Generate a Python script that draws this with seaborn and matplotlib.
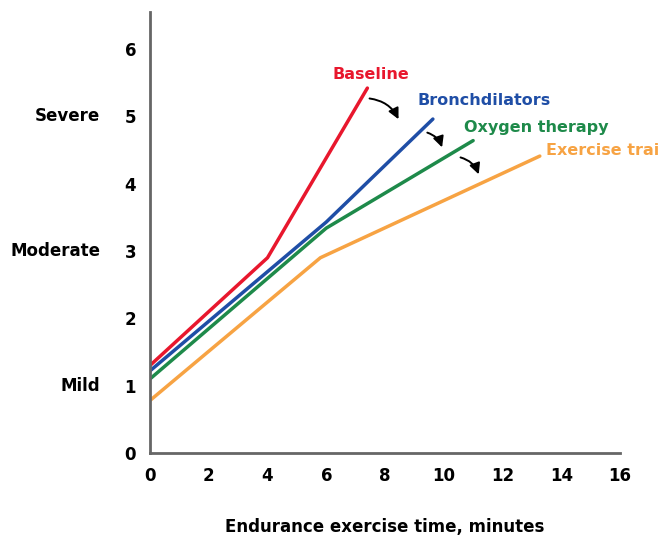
import matplotlib
matplotlib.use("Agg")
import matplotlib.pyplot as plt
import seaborn as sns
import pandas as pd

# Data
series_names = ["Baseline", "Bronchdilators", "Oxygen therapy", "Exercise training"]
baseline_x = [0, 4, 7.4]
baseline_y = [1.3, 2.9, 5.42]
broncho_x = [0, 6, 9.63]
broncho_y = [1.22, 3.43, 4.96]
oxygen_x = [0, 6, 11.0]
oxygen_y = [1.1, 3.34, 4.64]
exercise_x = [0, 5.8, 13.27]
exercise_y = [0.78, 2.9, 4.41]
colors = ["#e8172d", "#1f4ea6", "#1e8a4a", "#f7a343"]
x_ticks = [0, 2, 4, 6, 8, 10, 12, 14, 16]
y_ticks = [0, 1, 2, 3, 4, 5, 6]
severity_labels = {1: "Mild", 3: "Moderate", 5: "Severe"}
label_pos = [(6.22, 5.62), (9.1, 5.24), (10.68, 4.84), (13.47, 4.49)]
arrows = [((7.38, 5.27), (8.5, 4.92)), ((9.35, 4.77), (9.97, 4.5)), ((10.48, 4.4), (11.22, 4.1))]

xs = [baseline_x, broncho_x, oxygen_x, exercise_x]
ys = [baseline_y, broncho_y, oxygen_y, exercise_y]
rows = []
for name, xv, yv in zip(series_names, xs, ys):
    for a, b in zip(xv, yv):
        rows.append({"series": name, "x": a, "y": b})
df = pd.DataFrame(rows)

sns.set_style("white")
plt.rcParams["font.family"] = ["DejaVu Sans"]

fig = plt.figure(figsize=(6.59, 5.5), dpi=100)
ax = fig.add_axes([150 / 659, 1 - 453 / 550, 470 / 659, 441 / 550])

sns.lineplot(data=df, x="x", y="y", hue="series", palette=dict(zip(series_names, colors)),
             linewidth=2.5, legend=False, ax=ax, sort=False)

ax.set_xlim(0, 16)
ax.set_ylim(0, 6.55)
ax.set_xticks(x_ticks)
ax.set_yticks(y_ticks)
ax.tick_params(axis="both", direction="out", length=6, width=1.5, color="#666666",
               labelsize=12, pad=4, labelcolor="black")
for lbl in ax.get_xticklabels() + ax.get_yticklabels():
    lbl.set_fontweight("bold")
for s in ["top", "right"]:
    ax.spines[s].set_visible(False)
for s in ["left", "bottom"]:
    ax.spines[s].set_color("#666666")
    ax.spines[s].set_linewidth(2)
ax.set_xlabel("Endurance exercise time, minutes", fontsize=12, fontweight="bold",
              labelpad=24, color="black")
ax.set_ylabel("")

for yv, txt in severity_labels.items():
    ax.text(-1.7, yv, txt, ha="right", va="center", fontsize=12, fontweight="bold",
            color="black", transform=ax.transData, clip_on=False)

for name, c, (lx, ly) in zip(series_names, colors, label_pos):
    ax.text(lx, ly, name, color=c, fontsize=11.5, fontweight="bold", ha="left", va="center",
            clip_on=False)

for (p0, p1) in arrows:
    ax.annotate("", xy=p1, xytext=p0,
                arrowprops=dict(arrowstyle="-|>", color="black", lw=1.4,
                                connectionstyle="arc3,rad=-0.3", mutation_scale=16))

fig.savefig("out.png", dpi=100)
